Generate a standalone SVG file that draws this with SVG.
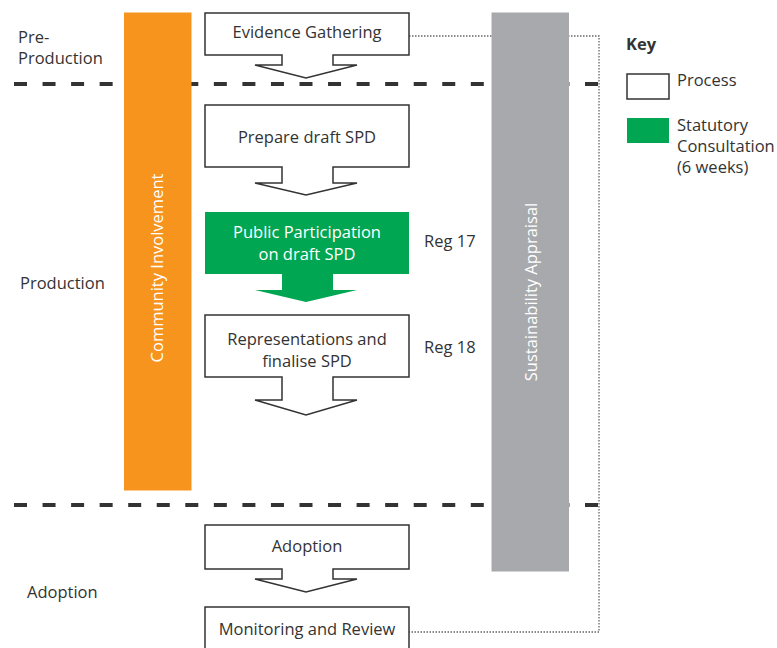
<svg xmlns="http://www.w3.org/2000/svg" width="777" height="648" viewBox="0 0 777 648">
<style>
  text { font-family: "Open Sans", "Liberation Sans", sans-serif; font-size: 16.5px; fill: #333333; }
  .c { text-anchor: middle; }
  .w { fill: #ffffff; }
  .box { fill: #ffffff; stroke: #333333; stroke-width: 1.5; stroke-linejoin: miter; }
  .green { fill: #00A651; }
  .phase { fill: none; stroke: #333333; stroke-width: 4; stroke-dasharray: 13 15.55; }
  .dot { fill: none; stroke: #666666; stroke-width: 1.3; stroke-dasharray: 1.5 1.5; }
</style>
<rect width="777" height="648" fill="#ffffff"/>
<g id="phase-lines">
  <line class="phase" x1="14" y1="84" x2="598" y2="84"/>
  <line class="phase" x1="14" y1="505" x2="598" y2="505"/>
</g>
<g id="connectors">
  <polyline class="dot" points="409,36 599,36 599,632 409,632"/>
</g>
<g id="community-involvement">
  <rect x="124" y="12.5" width="67.5" height="478" fill="#F7941E"/>
  <text class="c w" transform="translate(163,268) rotate(-90)">Community Involvement</text>
</g>
<g id="sustainability-appraisal">
  <rect x="491.5" y="12.5" width="77.5" height="559" fill="#A7A9AC"/>
  <text class="c w" transform="translate(537,292) rotate(-90)">Sustainability Appraisal</text>
</g>
<g id="labels">
  <text x="18" y="43">Pre-</text>
  <text x="18" y="64">Production</text>
  <text x="20" y="289">Production</text>
  <text x="27" y="598">Adoption</text>
  <text x="424" y="247">Reg 17</text>
  <text x="424" y="353">Reg 18</text>
</g>
<g id="evidence-gathering">
  <path class="box" d="M205,13 H409 V55 H333 V65 H357 L306,78 L255,65 H282 V55 H205 Z"/>
  <text class="c" x="307" y="38">Evidence Gathering</text>
</g>
<g id="prepare-draft">
  <path class="box" d="M205,105 H409 V167 H333 V183 H357 L306,195 L255,183 H282 V167 H205 Z"/>
  <text class="c" x="307" y="143">Prepare draft SPD</text>
</g>
<g id="public-participation">
  <path class="green" d="M205,212 H409 V274 H333 V290 H357 L306,302 L255,290 H282 V274 H205 Z"/>
  <text class="c w" x="307" y="238">Public Participation</text>
  <text class="c w" x="307" y="260">on draft SPD</text>
</g>
<g id="representations">
  <path class="box" d="M205,315 H409 V377 H333 V400 H357 L306,415 L255,400 H282 V377 H205 Z"/>
  <text class="c" x="307" y="345">Representations and</text>
  <text class="c" x="307" y="367">finalise SPD</text>
</g>
<g id="adoption">
  <path class="box" d="M205,525 H409 V569 H333 V579 H357 L306,592 L255,579 H282 V569 H205 Z"/>
  <text class="c" x="307" y="552">Adoption</text>
</g>
<g id="monitoring">
  <rect class="box" x="205" y="607" width="204" height="60"/>
  <text class="c" x="307" y="635">Monitoring and Review</text>
</g>
<g id="key">
  <text x="626" y="50" font-weight="bold">Key</text>
  <rect class="box" x="627" y="74" width="42" height="25"/>
  <text x="677" y="86">Process</text>
  <rect class="green" x="627" y="118" width="42" height="25"/>
  <text x="677" y="131">Statutory</text>
  <text x="677" y="152">Consultation</text>
  <text x="677" y="173">(6 weeks)</text>
</g>
</svg>
